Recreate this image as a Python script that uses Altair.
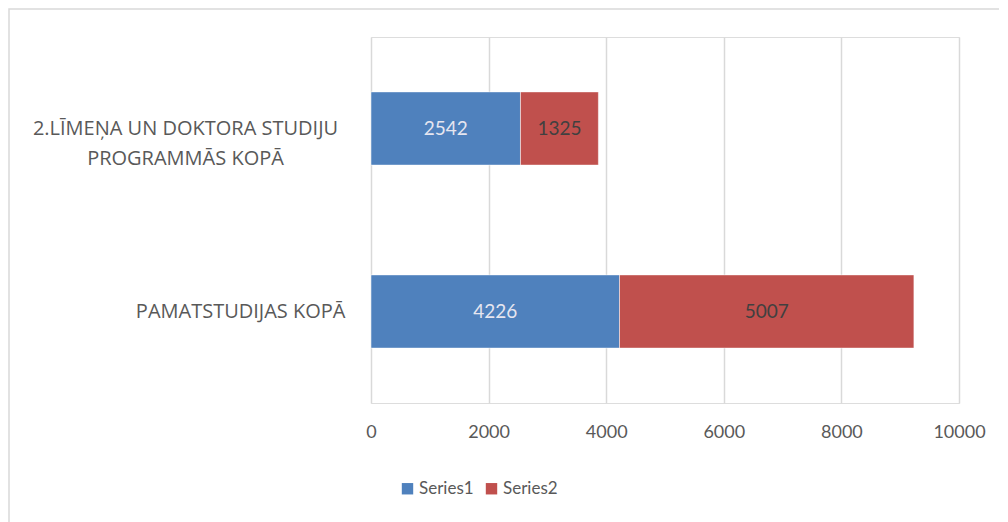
import altair as alt
import pandas as pd

categories = ["2.LĪMEŅA UN DOKTORA STUDIJU PROGRAMMĀS KOPĀ", "PAMATSTUDIJAS KOPĀ"]
label_lines = {
    "2.LĪMEŅA UN DOKTORA STUDIJU PROGRAMMĀS KOPĀ": ["2.LĪMEŅA UN DOKTORA STUDIJU", "PROGRAMMĀS KOPĀ"],
    "PAMATSTUDIJAS KOPĀ": ["PAMATSTUDIJAS KOPĀ"],
}
series_names = ["Series1", "Series2"]
series1 = [2542, 4226]
series2 = [1325, 5007]
x_ticks = [0, 2000, 4000, 6000, 8000, 10000]

rows = []
for i, c in enumerate(categories):
    rows.append({"category": c, "series": "Series1", "value": series1[i], "ord": 0})
    rows.append({"category": c, "series": "Series2", "value": series2[i], "ord": 1})
df = pd.DataFrame(rows)

FONT = "Lato"
CAT_FONT = "Open Sans"
TXT = "#595959"

label_expr = "datum.value == '" + categories[0] + "' ? ['" + "','".join(label_lines[categories[0]]) + "'] : datum.value"
is_first = "datum.value == '" + categories[0] + "'"

y_enc = alt.Y(
    "category:N",
    sort=categories,
    scale=alt.Scale(paddingInner=0.6, paddingOuter=0.3),
    axis=alt.Axis(
        title=None, ticks=False, domain=False, labelFont=CAT_FONT, labelFontSize=20,
        labelColor=TXT,
        labelPadding={"condition": {"test": is_first, "value": 186}, "value": 26},
        labelAlign={"condition": {"test": is_first, "value": "center"}, "value": "right"},
        labelLimit=400, labelExpr=label_expr,
        labelLineHeight=30,
    ),
)

base = alt.Chart(df).transform_stack(
    stack="value", groupby=["category"], as_=["x0", "x1"], sort=[alt.SortField("ord")]
).transform_calculate(mid="(datum.x0 + datum.x1) / 2")

bars = base.mark_bar(stroke="white", strokeWidth=0.5).encode(
    y=y_enc,
    x=alt.X(
        "x0:Q",
        scale=alt.Scale(domain=[0, 10000], nice=False),
        axis=alt.Axis(
            values=x_ticks, title=None, ticks=False, domain=False, grid=True, format="d",
            gridColor="#d9d9d9", gridWidth=1.5, labelFont=FONT, labelFontSize=18,
            labelColor=TXT, labelPadding=20, labelFlush=False,
        ),
    ),
    x2="x1:Q",
    color=alt.Color(
        "series:N",
        scale=alt.Scale(domain=series_names, range=["#4F81BD", "#C0504D"]),
        legend=alt.Legend(
            title=None, orient="none", direction="horizontal", legendX=28, legendY=443,
            symbolType="square", symbolSize=130, symbolStrokeWidth=0, labelFont=FONT,
            labelFontSize=17, labelColor=TXT, columnPadding=9, labelOffset=3,
        ),
    ),
)

texts = base.mark_text(font=FONT, fontSize=19, baseline="middle").encode(
    y=alt.Y("category:N", sort=categories),
    x=alt.X("mid:Q"),
    text=alt.Text("value:Q", format="d"),
    color=alt.condition(alt.datum.series == "Series1", alt.value("#e6e6f0"), alt.value("#404040")),
)

border = alt.Chart(pd.DataFrame({"a": [0]})).mark_rect(
    fill=None, stroke="#d9d9d9", strokeWidth=1.5
).encode(
    x=alt.value(-362), x2=alt.value(700), y=alt.value(-28), y2=alt.value(600)
)

chart = alt.layer(border, bars, texts).properties(
    width=588, height=366,
    autosize=alt.AutoSizeParams(type="none"),
    padding={"left": 363, "top": 29, "right": 40, "bottom": 140},
).configure_view(stroke=None).configure(background="white")

chart.save("out.html", embed_options={"renderer": "svg", "actions": False})
